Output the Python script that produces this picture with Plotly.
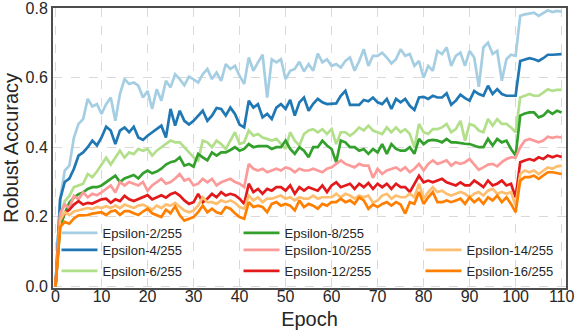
import plotly.graph_objects as go

epochs = list(range(111))

eps2 = [0.00, 0.25, 0.333, 0.347, 0.428, 0.467, 0.481, 0.539, 0.517, 0.524,
        0.496, 0.524, 0.543, 0.476, 0.553, 0.596, 0.582, 0.586, 0.577, 0.543,
        0.562, 0.51, 0.567, 0.534, 0.591, 0.572, 0.61, 0.596, 0.578, 0.603,
        0.595, 0.586, 0.61, 0.625, 0.596, 0.615, 0.591, 0.639, 0.625, 0.634,
        0.605, 0.582, 0.658, 0.62, 0.644, 0.666, 0.543, 0.653, 0.644, 0.653,
        0.596, 0.62, 0.625, 0.646, 0.618, 0.639, 0.62, 0.669, 0.644, 0.653,
        0.634, 0.639, 0.629, 0.648, 0.658, 0.62, 0.648, 0.682, 0.634, 0.663,
        0.663, 0.672, 0.658, 0.641, 0.653, 0.682, 0.663, 0.668, 0.634, 0.648,
        0.60, 0.634, 0.62, 0.677, 0.668, 0.687, 0.634, 0.663, 0.672, 0.634,
        0.677, 0.658, 0.574, 0.687, 0.701, 0.668, 0.677, 0.591, 0.653, 0.666,
        0.663, 0.778, 0.782, 0.784, 0.787, 0.778, 0.787, 0.794, 0.789, 0.792, 0.79]

eps4 = [0.00, 0.25, 0.30, 0.31, 0.338, 0.376, 0.385, 0.40, 0.419, 0.405,
        0.428, 0.459, 0.448, 0.409, 0.448, 0.457, 0.443, 0.459, 0.428, 0.421,
        0.433, 0.443, 0.452, 0.462, 0.428, 0.51, 0.462, 0.505, 0.476, 0.465,
        0.476, 0.49, 0.505, 0.476, 0.491, 0.513, 0.51, 0.491, 0.514, 0.496,
        0.465, 0.457, 0.534, 0.514, 0.524, 0.486, 0.496, 0.481, 0.514, 0.524,
        0.51, 0.536, 0.491, 0.529, 0.543, 0.505, 0.525, 0.539, 0.529, 0.524,
        0.525, 0.526, 0.548, 0.562, 0.522, 0.522, 0.522, 0.536, 0.532, 0.543,
        0.529, 0.524, 0.539, 0.51, 0.539, 0.529, 0.539, 0.519, 0.507, 0.543,
        0.545, 0.539, 0.548, 0.543, 0.543, 0.555, 0.522, 0.534, 0.551, 0.541,
        0.534, 0.562, 0.553, 0.548, 0.577, 0.553, 0.567, 0.553, 0.548, 0.548,
        0.548, 0.648, 0.653, 0.656, 0.653, 0.648, 0.656, 0.666, 0.666, 0.667, 0.668]

eps6 = [0.00, 0.20, 0.245, 0.26, 0.285, 0.29, 0.295, 0.323, 0.314, 0.33,
        0.35, 0.37, 0.35, 0.37, 0.39, 0.37, 0.385, 0.38, 0.395, 0.39,
        0.395, 0.376, 0.39, 0.40, 0.409, 0.419, 0.414, 0.414, 0.40, 0.385,
        0.371, 0.362, 0.419, 0.414, 0.40, 0.419, 0.409, 0.395, 0.419, 0.443,
        0.409, 0.414, 0.448, 0.433, 0.438, 0.428, 0.424, 0.419, 0.424, 0.409,
        0.395, 0.443, 0.419, 0.405, 0.438, 0.448, 0.452, 0.443, 0.452, 0.438,
        0.452, 0.409, 0.443, 0.443, 0.433, 0.443, 0.457, 0.448, 0.462, 0.448,
        0.443, 0.438, 0.457, 0.443, 0.457, 0.443, 0.452, 0.438, 0.40, 0.467,
        0.443, 0.438, 0.452, 0.452, 0.457, 0.467, 0.443, 0.452, 0.476, 0.419,
        0.467, 0.462, 0.448, 0.443, 0.481, 0.462, 0.481, 0.467, 0.467, 0.457,
        0.443, 0.543, 0.548, 0.553, 0.548, 0.548, 0.557, 0.567, 0.562, 0.565, 0.565]

eps8 = [0.00, 0.17, 0.21, 0.24, 0.255, 0.265, 0.27, 0.28, 0.285, 0.285,
        0.29, 0.30, 0.31, 0.318, 0.30, 0.31, 0.315, 0.32, 0.31, 0.325,
        0.333, 0.325, 0.33, 0.338, 0.35, 0.357, 0.36, 0.371, 0.347, 0.352,
        0.344, 0.381, 0.371, 0.362, 0.385, 0.376, 0.385, 0.385, 0.392, 0.40,
        0.39, 0.395, 0.409, 0.40, 0.403, 0.403, 0.403, 0.395, 0.40, 0.40,
        0.419, 0.395, 0.381, 0.40, 0.39, 0.371, 0.40, 0.40, 0.419, 0.405,
        0.395, 0.357, 0.419, 0.414, 0.40, 0.40, 0.39, 0.395, 0.381, 0.395,
        0.385, 0.409, 0.381, 0.409, 0.395, 0.39, 0.39, 0.40, 0.381, 0.424,
        0.409, 0.419, 0.421, 0.419, 0.414, 0.424, 0.414, 0.414, 0.411, 0.41,
        0.409, 0.405, 0.40, 0.40, 0.424, 0.405, 0.424, 0.414, 0.419, 0.395,
        0.376, 0.491, 0.497, 0.50, 0.50, 0.486, 0.491, 0.505, 0.496, 0.505, 0.50]

eps10 = [0.00, 0.21, 0.235, 0.225, 0.26, 0.25, 0.27, 0.256, 0.266, 0.262,
         0.27, 0.28, 0.29, 0.27, 0.30, 0.29, 0.30, 0.295, 0.29, 0.30,
         0.275, 0.29, 0.30, 0.309, 0.295, 0.30, 0.31, 0.323, 0.304, 0.309,
         0.29, 0.295, 0.309, 0.299, 0.309, 0.29, 0.299, 0.304, 0.309, 0.30,
         0.295, 0.285, 0.352, 0.338, 0.333, 0.338, 0.328, 0.333, 0.338, 0.333,
         0.342, 0.338, 0.328, 0.338, 0.333, 0.333, 0.338, 0.333, 0.328, 0.338,
         0.342, 0.352, 0.362, 0.352, 0.347, 0.342, 0.352, 0.347, 0.347, 0.312,
         0.338, 0.323, 0.333, 0.338, 0.342, 0.333, 0.342, 0.328, 0.338, 0.352,
         0.333, 0.352, 0.362, 0.352, 0.357, 0.362, 0.347, 0.357, 0.352, 0.357,
         0.366, 0.352, 0.335, 0.342, 0.35, 0.352, 0.345, 0.357, 0.366, 0.371,
         0.37, 0.40, 0.419, 0.424, 0.419, 0.414, 0.419, 0.43, 0.427, 0.43, 0.428]

eps12 = [0.00, 0.19, 0.21, 0.22, 0.235, 0.245, 0.235, 0.24, 0.238, 0.245,
         0.25, 0.252, 0.24, 0.25, 0.245, 0.26, 0.25, 0.245, 0.25, 0.255,
         0.262, 0.25, 0.255, 0.262, 0.255, 0.265, 0.27, 0.261, 0.247, 0.237,
         0.242, 0.266, 0.242, 0.252, 0.266, 0.256, 0.271, 0.261, 0.266, 0.262,
         0.252, 0.237, 0.295, 0.271, 0.28, 0.266, 0.28, 0.275, 0.285, 0.285,
         0.275, 0.29, 0.266, 0.285, 0.275, 0.285, 0.28, 0.275, 0.29, 0.271,
         0.29, 0.299, 0.285, 0.29, 0.295, 0.28, 0.295, 0.285, 0.297, 0.28,
         0.295, 0.285, 0.295, 0.28, 0.295, 0.285, 0.285, 0.271, 0.295, 0.318,
         0.299, 0.304, 0.299, 0.304, 0.309, 0.299, 0.295, 0.29, 0.299, 0.29,
         0.29, 0.304, 0.295, 0.285, 0.304, 0.29, 0.295, 0.304, 0.29, 0.295,
         0.256, 0.357, 0.362, 0.366, 0.362, 0.371, 0.366, 0.376, 0.371, 0.376, 0.372]

eps14 = [0.00, 0.19, 0.213, 0.205, 0.215, 0.218, 0.22, 0.225, 0.222, 0.228,
         0.225, 0.23, 0.225, 0.232, 0.225, 0.235, 0.23, 0.225, 0.232, 0.235,
         0.228, 0.22, 0.232, 0.225, 0.235, 0.232, 0.24, 0.228, 0.218, 0.213,
         0.218, 0.232, 0.256, 0.242, 0.242, 0.237, 0.247, 0.242, 0.247, 0.24,
         0.228, 0.223, 0.261, 0.247, 0.256, 0.242, 0.252, 0.252, 0.256, 0.261,
         0.252, 0.256, 0.247, 0.256, 0.252, 0.252, 0.261, 0.252, 0.256, 0.256,
         0.256, 0.266, 0.256, 0.266, 0.261, 0.252, 0.261, 0.256, 0.261, 0.24,
         0.247, 0.261, 0.266, 0.252, 0.261, 0.256, 0.256, 0.266, 0.256, 0.295,
         0.252, 0.271, 0.285, 0.271, 0.275, 0.266, 0.261, 0.266, 0.271, 0.266,
         0.256, 0.266, 0.271, 0.261, 0.275, 0.28, 0.266, 0.271, 0.266, 0.271,
         0.232, 0.323, 0.333, 0.328, 0.333, 0.323, 0.333, 0.342, 0.338, 0.345, 0.347]

eps16 = [0.00, 0.17, 0.185, 0.18, 0.195, 0.204, 0.204, 0.205, 0.209, 0.212,
         0.213, 0.205, 0.215, 0.218, 0.205, 0.216, 0.216, 0.21, 0.205, 0.215,
         0.223, 0.21, 0.205, 0.199, 0.22, 0.21, 0.23, 0.204, 0.189, 0.194,
         0.199, 0.213, 0.232, 0.213, 0.223, 0.213, 0.209, 0.228, 0.223, 0.21,
         0.199, 0.194, 0.242, 0.228, 0.232, 0.228, 0.213, 0.237, 0.242, 0.232,
         0.237, 0.232, 0.218, 0.247, 0.228, 0.237, 0.232, 0.223, 0.237, 0.232,
         0.242, 0.242, 0.252, 0.242, 0.247, 0.237, 0.256, 0.247, 0.223, 0.235,
         0.228, 0.237, 0.242, 0.232, 0.242, 0.235, 0.209, 0.242, 0.237, 0.271,
         0.237, 0.256, 0.271, 0.242, 0.242, 0.247, 0.242, 0.247, 0.252, 0.237,
         0.256, 0.242, 0.252, 0.237, 0.256, 0.247, 0.261, 0.242, 0.256, 0.237,
         0.213, 0.304, 0.314, 0.314, 0.318, 0.309, 0.318, 0.328, 0.328, 0.325, 0.323]

names = ['Epsilon-2/255', 'Epsilon-4/255', 'Epsilon-6/255', 'Epsilon-8/255',
         'Epsilon-10/255', 'Epsilon-12/255', 'Epsilon-14/255', 'Epsilon-16/255']
series = [eps2, eps4, eps6, eps8, eps10, eps12, eps14, eps16]
colors = ['#a6cee3', '#1f78b4', '#b2df8a', '#33a02c',
          '#fb9a99', '#e31a1c', '#fdbf6f', '#ff7f00']

# legend grid like matplotlib ncol=3 (last column sits at the bottom)
leg_cols = [0, 0, 0, 1, 1, 1, 2, 2]
leg_rows = [0, 1, 2, 0, 1, 2, 1, 2]
col_x = [0.0068, 0.3616, 0.7164]
row_y = [0.25, 0.1893, 0.1143]

font = 'Liberation Sans, Arial, sans-serif'
text_color = '#262626'

fig = go.Figure()
legends = {}
for i, (name, vals, col) in enumerate(zip(names, series, colors)):
    lg = 'legend' if i == 0 else 'legend%d' % (i + 1)
    fig.add_trace(go.Scatter(x=epochs, y=vals, name=name, mode='lines',
                             line=dict(color=col, width=2.7),
                             legend=lg, showlegend=True))
    legends[lg] = dict(x=col_x[leg_cols[i]], y=row_y[leg_rows[i]],
                       xanchor='left', yanchor='top',
                       bgcolor='rgba(0,0,0,0)', borderwidth=0, itemwidth=36,
                       font=dict(family=font, size=13, color=text_color))

fig.update_layout(
    width=576, height=330,
    showlegend=True,
    margin=dict(l=53, r=10, t=8, b=42),
    paper_bgcolor='white', plot_bgcolor='white',
    font=dict(family=font, color=text_color),
    xaxis=dict(range=[-0.55, 110.95], tickvals=list(range(0, 111, 10)),
               automargin=False, ticklabeloverflow='allow',
               showline=True, mirror=True, linecolor='#4d4d4d', linewidth=2,
               showgrid=True, gridcolor='#d9d9d9', griddash='dash', gridwidth=1,
               zeroline=False, ticks='', ticklabelstandoff=-7,
               tickfont=dict(size=16, color=text_color),
               title=dict(text='Epoch', font=dict(size=20, color=text_color),
                          standoff=9)),
    yaxis=dict(range=[-0.005, 0.8005], tickvals=[0.0, 0.2, 0.4, 0.6, 0.8],
               tickformat='.1f', automargin=False, ticklabeloverflow='allow',
               showline=True, mirror=True, linecolor='#4d4d4d', linewidth=2,
               showgrid=True, gridcolor='#d9d9d9', griddash='dash', gridwidth=1,
               zeroline=False, ticks='',
               tickfont=dict(size=16, color=text_color),
               title=dict(text='Robust Accuracy', font=dict(size=20, color=text_color),
                          standoff=4)),
)
fig.update_layout(**legends)

fig.write_html('out.html', config={'displayModeBar': False},
               post_script="document.body.style.margin='0px';")
